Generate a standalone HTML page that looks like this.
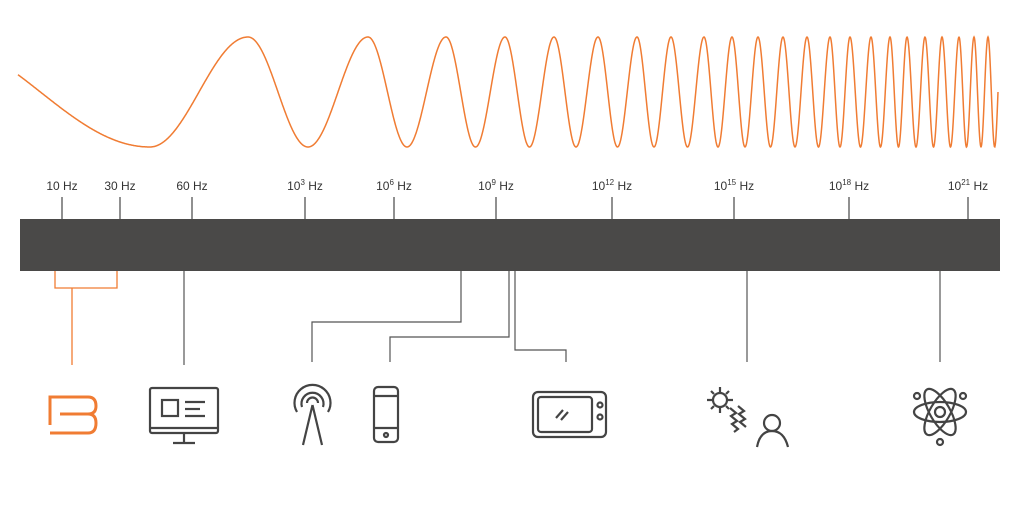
<!DOCTYPE html>
<html><head><meta charset="utf-8"><style>
html,body{margin:0;padding:0;background:#fff;}
svg{display:block}
text{font-family:"Liberation Sans",sans-serif;font-size:12px;fill:#333;}
</style></head><body>
<svg id="s" width="1024" height="506" viewBox="0 0 1024 506">
<path id="wave" fill="none" stroke="#f07c33" stroke-width="1.5"/>
<rect x="20" y="219" width="980" height="52" fill="#4a4948"/>
<g stroke="#555" stroke-width="1.3">
<line x1="62" y1="197" x2="62" y2="219"/><line x1="120" y1="197" x2="120" y2="219"/>
<line x1="192" y1="197" x2="192" y2="219"/><line x1="305" y1="197" x2="305" y2="219"/>
<line x1="394" y1="197" x2="394" y2="219"/><line x1="496" y1="197" x2="496" y2="219"/>
<line x1="612" y1="197" x2="612" y2="219"/><line x1="734" y1="197" x2="734" y2="219"/>
<line x1="849" y1="197" x2="849" y2="219"/><line x1="968" y1="197" x2="968" y2="219"/>
</g>
<g text-anchor="middle">
<text x="62" y="190">10 Hz</text><text x="120" y="190">30 Hz</text><text x="192" y="190">60 Hz</text>
<text x="305" y="190">10<tspan font-size="8" dy="-5">3</tspan><tspan dy="5"> Hz</tspan></text>
<text x="394" y="190">10<tspan font-size="8" dy="-5">6</tspan><tspan dy="5"> Hz</tspan></text>
<text x="496" y="190">10<tspan font-size="8" dy="-5">9</tspan><tspan dy="5"> Hz</tspan></text>
<text x="612" y="190">10<tspan font-size="8" dy="-5">12</tspan><tspan dy="5"> Hz</tspan></text>
<text x="734" y="190">10<tspan font-size="8" dy="-5">15</tspan><tspan dy="5"> Hz</tspan></text>
<text x="849" y="190">10<tspan font-size="8" dy="-5">18</tspan><tspan dy="5"> Hz</tspan></text>
<text x="968" y="190">10<tspan font-size="8" dy="-5">21</tspan><tspan dy="5"> Hz</tspan></text>
</g>
<g fill="none" stroke="#f07c33" stroke-width="1.3">
<polyline points="55,271 55,288 117,288 117,271"/><line x1="72" y1="288" x2="72" y2="365"/>
</g>
<g fill="none" stroke="#555" stroke-width="1.2">
<line x1="184" y1="271" x2="184" y2="365"/>
<polyline points="461,271 461,322 312,322 312,362"/>
<polyline points="509,271 509,337 390,337 390,362"/>
<polyline points="515,271 515,350 566,350 566,362"/>
<line x1="747" y1="271" x2="747" y2="362"/>
<line x1="940" y1="271" x2="940" y2="362"/>
</g>
<path d="M50,425 V397 H88 Q96,397 96,406 Q96,414 88,414 Q96,414 96,423 Q96,433 88,433 H50 M60,414 H88" fill="none" stroke="#f07c33" stroke-width="3"/>
<g fill="none" stroke="#444" stroke-width="2.2">
<rect x="150" y="388" width="68" height="45" rx="2"/><line x1="150" y1="428" x2="218" y2="428"/>
<line x1="184" y1="433" x2="184" y2="442"/><line x1="173" y1="443" x2="195" y2="443"/>
<rect x="162" y="400" width="16" height="16"/><line x1="185" y1="402" x2="205" y2="402"/><line x1="185" y1="409" x2="200" y2="409"/><line x1="185" y1="416" x2="205" y2="416"/>
<path d="M297,412 A18,18 0 1 1 328,412 M302,407 A11,11 0 1 1 323,407 M307,403 A5,5 0 1 1 318,403"/>
<path d="M312.5,405 L303,445 M312.5,405 L322,445"/>
<rect x="374" y="387" width="24" height="55" rx="4"/><line x1="374" y1="396" x2="398" y2="396"/><line x1="374" y1="428" x2="398" y2="428"/><circle cx="386" cy="435" r="2"/>
<rect x="533" y="392" width="73" height="45" rx="5"/><rect x="538" y="397" width="54" height="35" rx="3"/><circle cx="600" cy="405" r="2.5"/><circle cx="600" cy="417" r="2.5"/><path d="M556,418 L563,410 M561,420 L568,412"/>
<circle cx="720" cy="400" r="7"/><path d="M720,387v5M720,408v5M707,400h5M728,400h5M711,391l3,3M726,406l3,3M729,391l-3,3M711,409l3,-3"/>
<path d="M730,408 l6,5 -5,3 6,5 -5,3 6,5 -4,3 M738,406 l6,5 -5,3 6,5 -5,3 6,5"/>
<circle cx="772" cy="423" r="8"/><path d="M757,447 Q760,431 772,431 Q784,431 788,447"/>
<ellipse cx="940" cy="412" rx="26" ry="10" transform="rotate(60 940 412)"/><ellipse cx="940" cy="412" rx="26" ry="10" transform="rotate(-60 940 412)"/><ellipse cx="940" cy="412" rx="26" ry="10"/><circle cx="940" cy="412" r="5"/>
<circle cx="917" cy="396" r="3"/><circle cx="963" cy="396" r="3"/><circle cx="940" cy="442" r="3"/>
</g>
</svg>
<script>
var P=Math.PI;
var kx=[18,150,248,368,446,505,554,598,637,671,704,732,758,783,807,830,850,871,890,907,925,942,959,974,988,998];
var kp=[1.25,P];for(var i=1;i<=23;i++)kp.push(2*P*i);kp.push(2*P*23+1.5*P);
function ph(x){for(var j=0;j<kx.length-1;j++){if(x<=kx[j+1]){var a=kx[j],b=kx[j+1];var t=(x-a)/(b-a);
return kp[j]+(kp[j+1]-kp[j])*t;}}return kp[kp.length-1];}
var d="";var n=0;
for(var x=18;x<=998;x+=0.4){var y=92-55*Math.cos(ph(x));d+=(n++?"L":"M")+x.toFixed(1)+","+y.toFixed(1);}
document.getElementById("wave").setAttribute("d",d);
</script>
</body></html>
